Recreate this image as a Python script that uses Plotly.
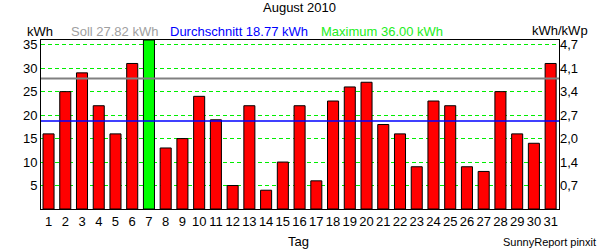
import plotly.graph_objects as go

days = list(range(1, 32))
values = [16, 25, 29, 22, 16, 31, 36, 13, 15, 24, 19, 5, 22, 4, 10, 22, 6, 23, 26, 27,
          18, 16, 9, 23, 22, 9, 8, 25, 16, 14, 31]
soll = 27.82
avg = 18.77
vmax = 36.00
left_ticks = [5, 10, 15, 20, 25, 30, 35]
right_labels = ["0,7", "1,4", "2,0", "2,7", "3,4", "4,1", "4,7"]

W, H = 600, 250
L, R, T, B = 41, 559, 40, 209


def px(x):
    return (x - L) / (R - L)


def py(y):
    return (B - y) / (B - T)


colors = ["#00ff00" if v == max(values) else "#ff0000" for v in values]
font = "Liberation Sans, Arial, sans-serif"

fig = go.Figure()
fig.add_trace(go.Bar(x=days, y=values, marker=dict(color=colors, line=dict(color="black", width=1)),
                     width=0.66, hoverinfo="skip"))
fig.add_trace(go.Scatter(x=days, y=values, yaxis="y2", mode="none", hoverinfo="skip", showlegend=False))

fig.add_shape(type="line", xref="paper", yref="y", x0=0, x1=1, y0=soll, y1=soll,
              line=dict(color="#808080", width=2), layer="above")
fig.add_shape(type="line", xref="paper", yref="y", x0=0, x1=1, y0=avg, y1=avg,
              line=dict(color="#0000ff", width=1.5), layer="above")

ann = [
    ("August 2010", 299, 8, "black", 13, "center", "middle"),
    ("kWh", 40, 32, "black", 13, "center", "middle"),
    ("Soll 27.82 kWh", 70, 32, "#a0a0a0", 13, "left", "middle"),
    ("Durchschnitt %.2f kWh" % avg, 169, 32, "#0000ff", 13, "left", "middle"),
    ("Maximum %.2f kWh" % vmax, 320, 32, "#22ee22", 13, "left", "middle"),
    ("kWh/kWp", 560, 38.5, "black", 13, "center", "bottom"),
    ("Tag", 298, 242, "black", 13, "center", "middle"),
    ("SunnyReport pinxit", 597, 242, "black", 11, "right", "middle"),
]
for text, x, y, c, s, xa, ya in ann:
    fig.add_annotation(text=text, xref="paper", yref="paper", x=px(x), y=py(y), xanchor=xa,
                       yanchor=ya, showarrow=False, borderpad=0,
                       font=dict(family=font, size=s, color=c))

fig.update_layout(
    width=W, height=H,
    margin=dict(l=L, r=W - R, t=T, b=H - B),
    paper_bgcolor="white", plot_bgcolor="white",
    showlegend=False,
    font=dict(family=font, size=13, color="black"),
    bargap=0.34,
    xaxis=dict(range=[0.55, 31.5], tickvals=days, ticktext=[str(d) for d in days],
               showgrid=False, zeroline=False, showline=True, linecolor="black", linewidth=1,
               mirror=True, ticks="", tickfont=dict(size=13)),
    yaxis=dict(range=[0, 36], tickvals=left_ticks, showgrid=True, gridcolor="#00ee00",
               griddash="4px,3px", gridwidth=1, zeroline=False, showline=True, linecolor="black",
               linewidth=1, mirror=True, ticks="", tickfont=dict(size=13)),
    yaxis2=dict(range=[0, 36], overlaying="y", side="right", tickvals=left_ticks,
                ticktext=right_labels, showgrid=False, zeroline=False, showline=False,
                ticks="", tickfont=dict(size=13)),
)

fig.write_html("out.html")
